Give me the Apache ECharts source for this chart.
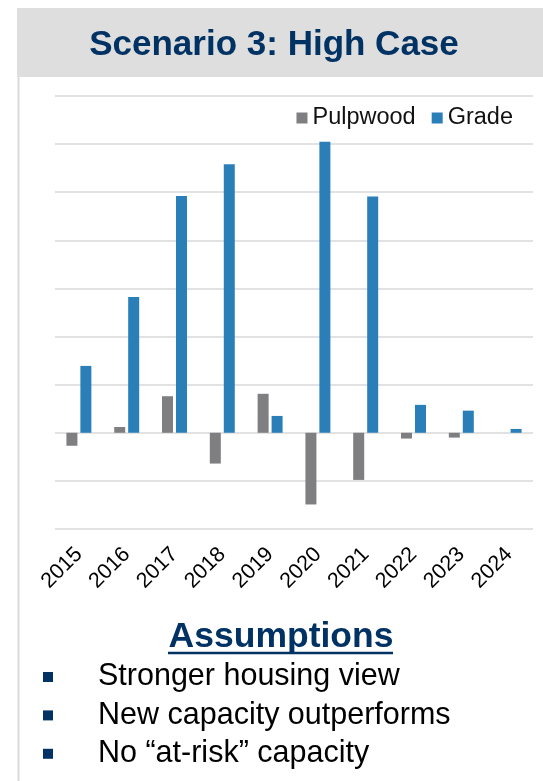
<!DOCTYPE html>
<html>
<head>
<meta charset="utf-8">
<script src="https://cdn.jsdelivr.net/npm/echarts@6/dist/echarts.min.js"></script>
<style>
  html, body { margin: 0; padding: 0; background: #fff; }
  #chart { width: 543px; height: 781px; }
</style>
</head>
<body>
<div id="chart"></div>
<script>
const years = ["2015", "2016", "2017", "2018", "2019", "2020", "2021", "2022", "2023", "2024"];
const pulpwood = [-27, 12, 76, -64, 81, -149, -98, -12, -10, 0];
const grade = [139, 282, 492, 558, 35, 605, 491, 58, 46, 8];
const assumptions = ["Stronger housing view", "New capacity outperforms", "No \u201cat-risk\u201d capacity"];

const font = "Liberation Sans";
const navy = "#003264";

const chart = echarts.init(document.getElementById("chart"));

// bullet list under the chart
const bulletGraphics = [];
assumptions.forEach((txt, i) => {
  const cy = 677 + i * 38.4;
  bulletGraphics.push({
    type: "rect",
    shape: { x: 43, y: cy - 5, width: 10, height: 10 },
    style: { fill: navy }
  });
  bulletGraphics.push({
    type: "text",
    style: {
      x: 98, y: cy, text: txt, fill: "#000",
      font: "30.5px '" + font + "'",
      textAlign: "left", textVerticalAlign: "middle"
    }
  });
});

const option = {
  animation: false,
  legend: {
    data: ["Pulpwood", "Grade"],
    right: 25,
    top: 101,
    icon: "rect",
    itemWidth: 11,
    itemHeight: 11,
    itemGap: 16,
    textStyle: { fontFamily: font, fontSize: 23.5, color: "#111" }
  },
  grid: { left: 55, right: 10, top: 96, bottom: 252 },
  xAxis: {
    type: "category",
    data: years,
    axisLine: { show: false },
    axisTick: { show: false },
    axisLabel: { rotate: 45, margin: 22, fontFamily: font, fontSize: 21.5, color: "#000" }
  },
  yAxis: {
    type: "value",
    min: -200,
    max: 700,
    interval: 100,
    axisLabel: { show: false },
    axisLine: { show: false },
    axisTick: { show: false },
    splitLine: { lineStyle: { color: "#d9d9d9", width: 1.5 } }
  },
  series: [
    {
      name: "Pulpwood",
      type: "bar",
      barWidth: 11,
      barGap: "27%",
      itemStyle: { color: "#7f7f82" },
      data: pulpwood
    },
    {
      name: "Grade",
      type: "bar",
      barWidth: 11,
      itemStyle: { color: "#2a7fb8" },
      data: grade
    }
  ],
  graphic: [
    {
      type: "rect",
      shape: { x: 17, y: 8, width: 526, height: 69 },
      style: { fill: "#dedede" }
    },
    {
      type: "line",
      shape: { x1: 18.5, y1: 77, x2: 18.5, y2: 781 },
      style: { stroke: "#dadada", lineWidth: 2 }
    },
    {
      type: "text",
      style: {
        x: 274, y: 45, text: "Scenario 3: High Case", fill: navy,
        font: "bold 35px '" + font + "'",
        textAlign: "center", textVerticalAlign: "middle"
      }
    },
    {
      type: "text",
      style: {
        x: 281, y: 637, text: "Assumptions", fill: navy,
        font: "bold 35.5px '" + font + "'",
        textAlign: "center", textVerticalAlign: "middle"
      }
    },
    {
      type: "line",
      shape: { x1: 168, y1: 653, x2: 393, y2: 653 },
      style: { stroke: navy, lineWidth: 2.5 }
    }
  ].concat(bulletGraphics)
};

chart.setOption(option);
</script>
</body>
</html>
